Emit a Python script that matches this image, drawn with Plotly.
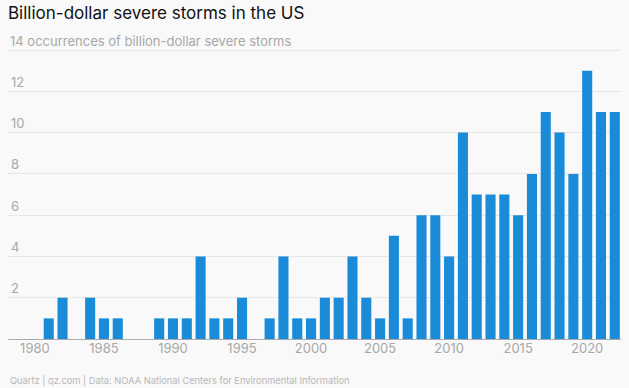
import plotly.graph_objects as go

years = list(range(1980, 2023))
counts = [0, 1, 2, 0, 2, 1, 1, 0, 0, 1,
          1, 1, 4, 1, 1, 2, 0, 1, 4, 1,
          1, 2, 2, 4, 2, 1, 5, 1, 6, 6,
          4, 10, 7, 7, 7, 6, 8, 11, 10, 8,
          13, 11, 11]
y_tickvals = [2, 4, 6, 8, 10, 12, 14]
y_ticktext = ["2", "4", "6", "8", "10", "12", ""]
top_tick_value = 14
top_tick_label = "14 occurrences of billion-dollar severe storms"
x_tickvals = [1980, 1985, 1990, 1995, 2000, 2005, 2010, 2015, 2020]

title_text = "Billion-dollar severe storms in the US"
footer_text = "Quartz | qz.com | Data: NOAA National Centers for Environmental Information"

BG = "#f9f9f9"
TICK_GREY = "#a8a8a8"
FONT = "Inter, Roboto, Arial, sans-serif"

fig = go.Figure(go.Bar(x=years, y=counts, marker_color="#1a8bd9",
                       marker_line_width=0, hoverinfo="skip"))

fig.update_layout(
    width=629, height=388,
    paper_bgcolor=BG, plot_bgcolor=BG,
    margin=dict(l=8, r=8, t=48, b=49, autoexpand=False),
    bargap=0.27,
    showlegend=False,
    font=dict(family=FONT),
    title=dict(text=title_text, x=8/629, xref="container", xanchor="left",
               y=1, yref="container", yanchor="top", pad=dict(t=7, l=0),
               font=dict(size=17, color="#111111", family=FONT)),
)

fig.update_xaxes(range=[1978.05, 2022.45], tickvals=x_tickvals,
                 showgrid=False, zeroline=False, showline=False,
                 ticks="", tickfont=dict(size=13, color=TICK_GREY, family=FONT),
                 automargin=False, fixedrange=True)
fig.update_yaxes(range=[0, 14.1], tickvals=y_tickvals, ticktext=y_ticktext,
                 showgrid=True, gridcolor="#e6e6e6", gridwidth=1,
                 zeroline=True, zerolinecolor="#aaaaaa", zerolinewidth=1,
                 showline=False, ticks="",
                 ticklabelposition="inside top",
                 tickfont=dict(size=13, color=TICK_GREY, family=FONT),
                 automargin=False, fixedrange=True)

fig.add_annotation(text=top_tick_label, x=0, xref="paper", xanchor="left",
                   y=top_tick_value, yref="y", yanchor="middle", yshift=9,
                   showarrow=False,
                   font=dict(size=13, color=TICK_GREY, family=FONT))

fig.add_annotation(text=footer_text, x=0, xref="paper", xanchor="left",
                   y=0, yref="paper", yanchor="top", yshift=-34,
                   showarrow=False,
                   font=dict(size=9.3, color="#b8b8b8", family=FONT))

fig.write_html("out.html", config={"displayModeBar": False},
               post_script="document.body.style.margin='0';document.body.style.background='%s';" % BG)
